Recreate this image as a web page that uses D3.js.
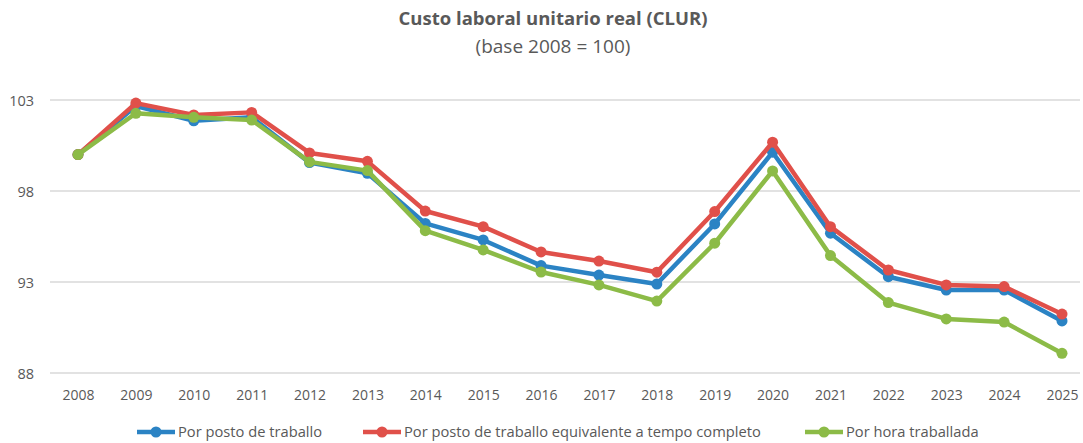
<!DOCTYPE html>
<html><head><meta charset="utf-8">
<script src="https://cdn.jsdelivr.net/npm/d3@7"></script>
<style>body{margin:0;background:#fff;} svg{display:block;font-family:"Open Sans",sans-serif;}</style>
</head><body><svg id="c" width="1083" height="443"></svg>
<script>
const years = ["2008","2009","2010","2011","2012","2013","2014","2015","2016","2017","2018","2019","2020","2021","2022","2023","2024","2025"];
const porPosto = [100,102.67,101.86,102.05,99.56,98.97,96.22,95.31,93.90,93.38,92.89,96.19,100.13,95.68,93.29,92.56,92.56,90.86];
const porPostoETC = [100,102.83,102.18,102.32,100.09,99.63,96.90,96.04,94.65,94.15,93.54,96.87,100.68,96.04,93.66,92.84,92.75,91.24];
const porHora = [100,102.27,102.05,101.90,99.60,99.12,95.82,94.76,93.55,92.84,91.95,95.13,99.10,94.45,91.87,90.97,90.80,89.08];
const yTicks = [88,93,98,103];
const seriesNames = ["Por posto de traballo","Por posto de traballo equivalente a tempo completo","Por hora traballada"];
const colors = ["#2b83c4","#e0504a","#8cbb47"];
const series = [porPosto, porPostoETC, porHora];

const svg = d3.select("#c");
const x = d3.scalePoint().domain(years).range([78,1062]);
const y = d3.scaleLinear().domain([88,103]).range([373,100]);

// gridlines
svg.append("g").selectAll("line").data(yTicks).join("line")
  .attr("x1",50).attr("x2",1080).attr("y1",d=>y(d)).attr("y2",d=>y(d))
  .attr("stroke","#d9d9d9").attr("stroke-width",1.3);

// y axis labels
const ya = svg.append("g").attr("transform","translate(34,0)")
  .call(d3.axisLeft(y).tickValues(yTicks).tickSize(0).tickPadding(0));
ya.select(".domain").remove();
ya.selectAll("text").attr("fill","#595959").style("font-size","14.5px").style("font-family","'Open Sans',sans-serif").attr("dy","0.35em");

// x axis labels
const xa = svg.append("g").attr("transform","translate(0,395)")
  .call(d3.axisBottom(x).tickSize(0).tickPadding(0));
xa.select(".domain").remove();
xa.selectAll("text").attr("fill","#595959").style("font-size","14px").style("font-family","'Open Sans',sans-serif").attr("dy","0.35em");

// lines
const line = d3.line().x((d,i)=>x(years[i])).y(d=>y(d));
series.forEach((s,k)=>{
  const g = svg.append("g");
  g.append("path").datum(s).attr("d",line).attr("fill","none")
    .attr("stroke",colors[k]).attr("stroke-width",4.5).attr("stroke-linejoin","round");
  g.selectAll("circle").data(s).join("circle")
    .attr("cx",(d,i)=>x(years[i])).attr("cy",d=>y(d)).attr("r",5.5).attr("fill",colors[k]);
});

// title
svg.append("text").attr("x",553).attr("y",25).attr("text-anchor","middle")
  .attr("fill","#595959").style("font-size","18.5px").style("font-weight","bold").style("font-family","'Open Sans',sans-serif").text("Custo laboral unitario real (CLUR)");
svg.append("text").attr("x",553).attr("y",53).attr("text-anchor","middle")
  .attr("fill","#595959").style("font-size","19px").style("font-family","'Open Sans',sans-serif").text("(base 2008 = 100)");

// legend
const legX = [137,363,805];
seriesNames.forEach((n,k)=>{
  const g = svg.append("g").attr("transform",`translate(${legX[k]},432)`);
  g.append("line").attr("x1",0).attr("x2",38).attr("stroke",colors[k]).attr("stroke-width",4.5);
  g.append("circle").attr("cx",19).attr("r",5.5).attr("fill",colors[k]);
  g.append("text").attr("x",41).attr("dy","0.35em").attr("fill","#595959")
    .style("font-size","14.7px").style("font-family","'Open Sans',sans-serif").text(n);
});
</script></body></html>
